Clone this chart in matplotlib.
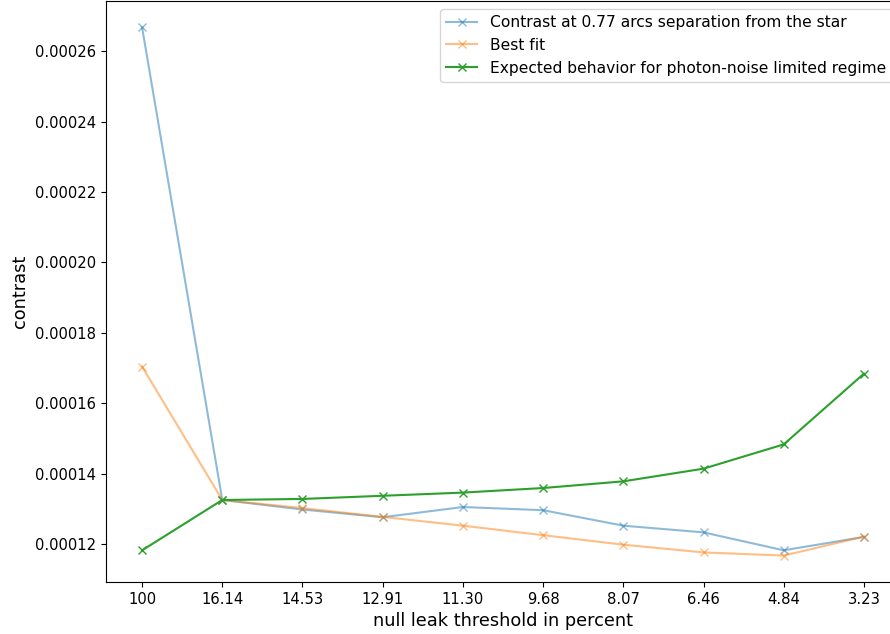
import numpy as np
import matplotlib
matplotlib.use('Agg')
import matplotlib.pyplot as plt

thresholds = ['100', '16.14', '14.53', '12.91', '11.30', '9.68', '8.07', '6.46', '4.84', '3.23']

contrast = [0.0002668, 0.0001325, 0.0001298, 0.0001276, 0.0001305, 0.0001296,
            0.0001252, 0.0001233, 0.0001182, 0.0001220]
best_fit = [0.0001704, 0.0001325, 0.0001302, 0.0001277, 0.0001252, 0.0001225,
            0.0001198, 0.0001176, 0.0001167, 0.0001221]
expected = [0.0001182, 0.0001325, 0.0001328, 0.0001337, 0.0001346, 0.0001359,
            0.0001378, 0.0001414, 0.0001483, 0.0001684]

x = np.arange(len(thresholds))

fig = plt.figure(figsize=(8.9, 6.34), dpi=100)
# axes run past the right edge, like the cropped original
ax = fig.add_axes([106/890, 52/634, 794/890, 581/634])

ax.plot(x, contrast, 'x-', color='C0', alpha=0.5, lw=1.5,
        label='Contrast at 0.77 arcs separation from the star')
ax.plot(x, best_fit, 'x-', color='C1', alpha=0.5, lw=1.5, label='Best fit')
ax.plot(x, expected, 'x-', color='C2', lw=1.5,
        label='Expected behavior for photon-noise limited regime')

ax.set_xticks(x)
ax.set_xticklabels(thresholds)
yt = np.arange(0.00012, 0.000261, 0.00002)
ax.set_yticks(yt)
ax.set_yticklabels(['%.5f' % v for v in yt])
ax.tick_params(labelsize=10.6)
ax.set_xlabel('null leak threshold in percent', fontsize=12.75)
ax.set_ylabel('contrast', fontsize=12.75)
ax.legend(loc='upper right', fontsize=11.2)

fig.savefig('out.png', dpi=100)
